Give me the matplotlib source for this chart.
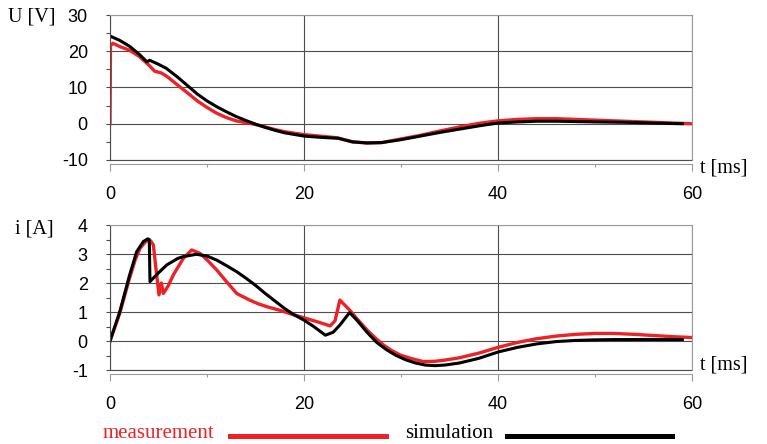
import matplotlib
matplotlib.use("Agg")
import matplotlib.pyplot as plt
from matplotlib.lines import Line2D
from matplotlib.ticker import MultipleLocator

plt.rcParams["axes.unicode_minus"] = False

# voltage, measured
t_um = [0, 0.05, 0.3, 1.0, 2.0, 3.0, 4.0, 4.6, 5.3, 6.0, 7.0, 8.0, 9.0, 10.0, 11.0,
        12.0, 13.0, 14.0, 15.0, 16.0, 17.0, 18.0, 20.0, 22.0, 23.5, 25.0, 26.5,
        28.0, 30.0, 32.0, 34.0, 36.0, 38.0, 40.0, 42.0, 44.0, 46.0, 48.0, 50.0,
        53.0, 56.0, 58.0, 60.0]
u_meas = [0, 21.5, 22.2, 21.3, 20.3, 18.6, 16.2, 14.5, 14.0, 12.8, 10.6, 8.5, 6.3,
          4.5, 2.9, 1.7, 0.8, 0.3, -0.2, -0.9, -1.6, -2.2, -3.0, -3.5, -3.9, -5.0,
          -5.3, -5.2, -4.2, -3.2, -2.0, -0.9, 0.1, 0.8, 1.2, 1.4, 1.4, 1.2, 1.0,
          0.7, 0.4, 0.2, 0.0]

# voltage, simulated
t_us = [0, 1, 2, 3, 3.8, 4.1, 5, 5.8, 7, 8, 9, 10, 11, 12, 13, 14, 15, 16, 17, 18,
        20, 22, 23.5, 25, 26.5, 28, 30, 32, 34, 36, 38, 40, 42, 44, 46, 48, 50,
        53, 56, 59]
u_sim = [24.2, 23.0, 21.4, 19.2, 17.1, 17.5, 16.4, 15.3, 12.8, 10.5, 8.2, 6.3, 4.7,
         3.3, 2.0, 0.9, -0.1, -1.0, -1.8, -2.5, -3.4, -3.8, -4.0, -5.0, -5.3, -5.2,
         -4.4, -3.4, -2.4, -1.5, -0.6, 0.2, 0.5, 0.7, 0.7, 0.6, 0.5, 0.4, 0.2, 0.0]

# current, measured
t_im = [0, 1, 2, 2.6, 3.1, 3.6, 3.95, 4.2, 4.47, 4.81, 5.05, 5.3, 5.5, 6.0, 6.53,
        7.56, 8.42, 9.28, 10.0, 11.0, 12.0, 13.06, 14.4, 15.3, 16.2, 17.5, 18.5,
        19.6, 20.5, 21.5, 22.7, 23.2, 23.7, 24.7, 25.5, 26.5, 27.3, 28.2, 29.0,
        29.9, 31.0, 32.3, 33.5, 34.5, 36.0, 38.0, 40.0, 42.0, 44.0, 46.0, 48.0,
        50.0, 52.0, 54.0, 56.0, 58.0, 60.0]
i_meas = [0, 0.95, 2.15, 2.8, 3.2, 3.4, 3.48, 3.45, 3.31, 2.28, 1.59, 2.0, 1.64,
          1.9, 2.28, 2.85, 3.14, 3.02, 2.8, 2.45, 2.05, 1.64, 1.41, 1.28, 1.18,
          1.06, 0.95, 0.84, 0.75, 0.65, 0.52, 0.7, 1.41, 1.07, 0.75, 0.38, 0.12,
          -0.14, -0.32, -0.48, -0.6, -0.71, -0.7, -0.66, -0.58, -0.42, -0.22, -0.05,
          0.08, 0.17, 0.23, 0.26, 0.26, 0.23, 0.19, 0.15, 0.12]

# current, simulated
t_is = [0, 1, 2, 2.75, 3.44, 3.88, 4.05, 4.12, 5, 5.84, 7, 7.56, 8.9, 10, 11, 12,
        13.06, 14, 15, 16, 17, 18, 19, 20, 21, 22.2, 23.0, 23.7, 24.7, 25.5, 26.5,
        27.5, 28.5, 29.5, 30.5, 31.5, 32.5, 33.5, 34.5, 36, 38, 40, 42, 44, 46, 48,
        50, 52, 54, 56, 59]
i_sim = [0, 1.0, 2.25, 3.08, 3.43, 3.52, 3.5, 2.05, 2.35, 2.62, 2.85, 2.91, 2.99,
         2.93, 2.79, 2.6, 2.39, 2.17, 1.92, 1.64, 1.38, 1.12, 0.9, 0.72, 0.5, 0.2,
         0.3, 0.55, 0.98, 0.7, 0.3, -0.05, -0.3, -0.5, -0.65, -0.76, -0.83, -0.85,
         -0.83, -0.76, -0.6, -0.38, -0.22, -0.1, -0.02, 0.02, 0.04, 0.05, 0.05,
         0.05, 0.05]

RED = "#ec2227"
GRID = "#4d4d4d"
FRAME = "#9a9a9a"
SERIF = "Liberation Serif"
SANS = "Liberation Sans"

fig = plt.figure(figsize=(7.67, 4.44), dpi=100)
W, H = 767, 444


def px_axes(left, top, right, bottom):
    return fig.add_axes([left / W, 1 - bottom / H, (right - left) / W, (bottom - top) / H])


def style(ax, ylim, ystep):
    ax.set_xlim(0, 60)
    ax.set_ylim(*ylim)
    ax.xaxis.set_major_locator(MultipleLocator(20))
    ax.xaxis.set_minor_locator(MultipleLocator(10))
    ax.yaxis.set_major_locator(MultipleLocator(ystep))
    ax.yaxis.set_minor_locator(MultipleLocator(ystep / 2))
    ax.grid(True, which="major", color=GRID, lw=0.8)
    for s in ["top", "right"]:
        ax.spines[s].set_color(FRAME)
        ax.spines[s].set_linewidth(0.8)
    ax.spines["left"].set_color(GRID)
    ax.spines["left"].set_linewidth(0.8)
    ax.spines["bottom"].set_position(("outward", 3))
    ax.spines["bottom"].set_color(FRAME)
    ax.spines["bottom"].set_linewidth(0.8)
    ax.axhline(ylim[0], color=GRID, lw=0.8, clip_on=False)
    ax.tick_params(axis="y", which="major", length=3, width=0.8, color=GRID, pad=13)
    ax.tick_params(axis="y", which="minor", length=3, width=0.8, color=GRID)
    ax.tick_params(axis="x", which="major", length=5, width=0.8, color=FRAME, pad=11)
    ax.tick_params(axis="x", which="minor", length=2.5, width=0.8, color=FRAME)
    for lab in ax.get_xticklabels() + ax.get_yticklabels():
        lab.set_fontfamily(SANS)
        lab.set_fontsize(13)


ax1 = px_axes(110, 15, 692, 160)
ax1.plot(t_um, u_meas, color=RED, lw=2.4, solid_joinstyle="round")
ax1.plot(t_us, u_sim, color="black", lw=2.2, solid_joinstyle="round")
style(ax1, (-10, 30), 10)

ax2 = px_axes(110, 225, 692, 370)
ax2.plot(t_im, i_meas, color=RED, lw=2.4, solid_joinstyle="round")
ax2.plot(t_is, i_sim, color="black", lw=2.2, solid_joinstyle="round")
style(ax2, (-1, 4), 1)

fig.text(55 / W, 1 - 17 / H, "U [V]", family=SERIF, fontsize=14.5, ha="right", va="center")
fig.text(54 / W, 1 - 229 / H, "i [A]", family=SERIF, fontsize=14.5, ha="right", va="center")
fig.text(700 / W, 1 - 168 / H, "t [ms]", family=SERIF, fontsize=14.5, ha="left", va="center")
fig.text(700 / W, 1 - 365 / H, "t [ms]", family=SERIF, fontsize=14.5, ha="left", va="center")

# legend below the plots
fig.text(103 / W, 1 - 433 / H, "measurement", family=SERIF, fontsize=15, color=RED,
         ha="left", va="center")
fig.add_artist(Line2D([230 / W, 386 / W], [1 - 436 / H] * 2, color=RED, lw=3.6,
                      transform=fig.transFigure))
fig.text(405 / W, 1 - 433 / H, "simulation", family=SERIF, fontsize=15, color="black",
         ha="left", va="center")
fig.add_artist(Line2D([507 / W, 672 / W], [1 - 436 / H] * 2, color="black", lw=3.6,
                      transform=fig.transFigure))

fig.savefig("out.png", dpi=100)
